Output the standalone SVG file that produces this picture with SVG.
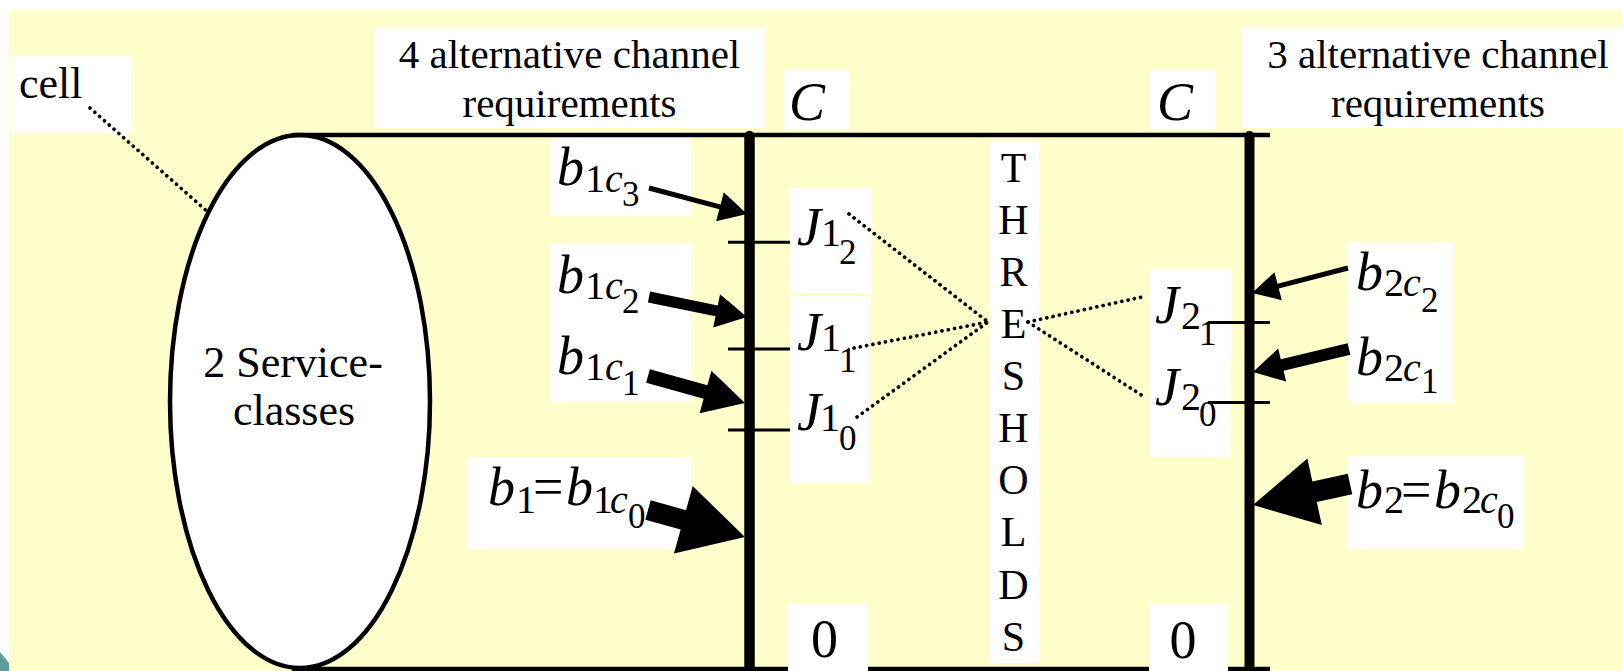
<svg xmlns="http://www.w3.org/2000/svg" width="1623" height="671" viewBox="0 0 1623 671">
<style>
text{font-family:"Liberation Serif","Times New Roman",serif;fill:#000}
.hd{font-size:41px;text-anchor:middle}
.i{font-style:italic}
.m{font-size:54px}
.s{font-size:40px}
.ss{font-size:35px}
.box{fill:#fff}
.dot{fill:none;stroke:#000;stroke-width:3.7;stroke-linecap:round;stroke-dasharray:0.1 6.3}
.tick{stroke:#000;stroke-width:3}
.arr{fill:#000}
.thr{font-size:42px;text-anchor:middle}
</style>
<rect x="0" y="0" width="1623" height="671" fill="#fff"/>
<rect x="9" y="10" width="1614" height="661" fill="#ffffcc"/>
<polygon points="0,652 9,663 9,671 0,671" fill="#5f9c9c"/>

<g id="cell">
<ellipse cx="300" cy="401.5" rx="130" ry="266.5" fill="#fff" stroke="#000" stroke-width="4.5"/>
<text x="293" y="376.7" font-size="44" text-anchor="middle">2 Service-</text>
<text x="294" y="425" font-size="44" text-anchor="middle">classes</text>
</g>

<g id="cell-label">
<rect class="box" x="12" y="55" width="119" height="79"/>
<text x="19" y="98.3" font-size="44">cell</text>
</g>

<g id="frame">
<line x1="292" y1="135" x2="1270" y2="135" stroke="#000" stroke-width="4.6"/>
<line x1="292" y1="669" x2="1270" y2="669" stroke="#000" stroke-width="4.6"/>
</g>

<g id="header-left">
<rect class="box" x="374" y="27" width="391" height="101"/>
<text class="hd" x="569.5" y="68">4 alternative channel</text>
<text class="hd" x="569.5" y="117">requirements</text>
</g>
<g id="header-right">
<rect class="box" x="1242" y="27" width="381" height="101"/>
<text class="hd" x="1438" y="68">3 alternative channel</text>
<text class="hd" x="1438" y="117">requirements</text>
</g>

<g id="C-left">
<rect class="box" x="784" y="70" width="66" height="60"/>
<text class="m i" x="789" y="120">C</text>
</g>
<g id="C-right">
<rect class="box" x="1149" y="70" width="66" height="60"/>
<text class="m i" x="1157" y="120">C</text>
</g>
<g id="zero-left">
<rect class="box" x="788" y="604" width="80" height="67"/>
<text class="m" x="824.5" y="657" text-anchor="middle">0</text>
</g>
<g id="zero-right">
<rect class="box" x="1149" y="604" width="79" height="67"/>
<text class="m" x="1183" y="658" text-anchor="middle">0</text>
</g>

<g id="thresholds">
<rect class="box" x="989" y="141" width="50" height="522"/>
<text class="thr" x="1013.5" y="181.7">T</text>
<text class="thr" x="1013.5" y="233.8">H</text>
<text class="thr" x="1013.5" y="285.9">R</text>
<text class="thr" x="1013.5" y="338">E</text>
<text class="thr" x="1013.5" y="390.1">S</text>
<text class="thr" x="1013.5" y="442.2">H</text>
<text class="thr" x="1013.5" y="494.3">O</text>
<text class="thr" x="1013.5" y="546.4">L</text>
<text class="thr" x="1013.5" y="598.5">D</text>
<text class="thr" x="1013.5" y="650.6">S</text>
</g>

<g id="b1c3">
<rect class="box" x="550" y="138" width="141" height="78"/>
<text><tspan class="m i" x="557" y="185">b</tspan><tspan class="s" x="585" y="191.5">1</tspan><tspan class="s i" x="605" y="191.5">c</tspan><tspan class="ss" x="622" y="206">3</tspan></text>
</g>
<g id="b1c2-b1c1">
<rect class="box" x="550" y="243" width="141" height="159"/>
<text><tspan class="m i" x="557" y="292.5">b</tspan><tspan class="s" x="585" y="298.5">1</tspan><tspan class="s i" x="605" y="298.5">c</tspan><tspan class="ss" x="622" y="313">2</tspan></text>
<text><tspan class="m i" x="557" y="373.5">b</tspan><tspan class="s" x="585" y="380">1</tspan><tspan class="s i" x="605" y="380">c</tspan><tspan class="ss" x="622" y="395">1</tspan></text>
</g>
<g id="b1c0">
<rect class="box" x="467" y="457" width="224" height="92"/>
<text><tspan class="m i" x="488" y="505">b</tspan><tspan class="s" x="516" y="513">1</tspan><tspan class="m" x="533" y="505">=</tspan><tspan class="m i" x="566" y="505">b</tspan><tspan class="s" x="593" y="513">1</tspan><tspan class="s i" x="610" y="513">c</tspan><tspan class="ss" x="628" y="528">0</tspan></text>
</g>

<g id="J12">
<rect class="box" x="789" y="188" width="82" height="105"/>
<text><tspan class="m i" x="797" y="245">J</tspan><tspan class="s" x="821" y="246">1</tspan><tspan class="ss" x="839" y="264">2</tspan></text>
</g>
<g id="J11-J10">
<rect class="box" x="789" y="296" width="81" height="187"/>
<text><tspan class="m i" x="797" y="350">J</tspan><tspan class="s" x="821" y="351">1</tspan><tspan class="ss" x="839" y="371.5">1</tspan></text>
<text><tspan class="m i" x="797" y="430">J</tspan><tspan class="s" x="820" y="431">1</tspan><tspan class="ss" x="839" y="450">0</tspan></text>
</g>
<g id="J21">
<rect class="box" x="1149" y="269" width="82" height="91"/>
<text><tspan class="m i" x="1155" y="323">J</tspan><tspan class="s" x="1181" y="329">2</tspan><tspan class="ss" x="1199" y="345">1</tspan></text>
</g>
<g id="J20">
<rect class="box" x="1149" y="360" width="81" height="97"/>
<text><tspan class="m i" x="1155" y="405">J</tspan><tspan class="s" x="1181" y="410">2</tspan><tspan class="ss" x="1199" y="426">0</tspan></text>
</g>

<g id="b2c2-b2c1">
<rect class="box" x="1348" y="242" width="105" height="161"/>
<text><tspan class="m i" x="1356" y="290">b</tspan><tspan class="s" x="1384" y="296">2</tspan><tspan class="s i" x="1403" y="296">c</tspan><tspan class="ss" x="1421" y="312">2</tspan></text>
<text><tspan class="m i" x="1356" y="375">b</tspan><tspan class="s" x="1384" y="381">2</tspan><tspan class="s i" x="1403" y="381">c</tspan><tspan class="ss" x="1421" y="393">1</tspan></text>
</g>
<g id="b2c0">
<rect class="box" x="1348" y="456" width="176" height="93"/>
<text><tspan class="m i" x="1356" y="508">b</tspan><tspan class="s" x="1384" y="513">2</tspan><tspan class="m" x="1401" y="508">=</tspan><tspan class="m i" x="1434" y="508">b</tspan><tspan class="s" x="1462" y="513">2</tspan><tspan class="s i" x="1480" y="513">c</tspan><tspan class="ss" x="1497" y="528">0</tspan></text>
</g>

<g id="connectors">
<line x1="749.5" y1="136" x2="749.5" y2="680" stroke="#000" stroke-width="10.5" stroke-linecap="round"/>
<line x1="1249.5" y1="136" x2="1249.5" y2="680" stroke="#000" stroke-width="10" stroke-linecap="round"/>
<line class="tick" x1="728" y1="242.3" x2="790" y2="242.3"/>
<line class="tick" x1="728" y1="349" x2="790" y2="349"/>
<line class="tick" x1="728" y1="430" x2="790" y2="430"/>
<line class="tick" x1="1208" y1="322.5" x2="1270" y2="322.5"/>
<line class="tick" x1="1208" y1="402.5" x2="1270" y2="402.5"/>
<line class="dot" x1="90" y1="108" x2="209" y2="213"/>
<line class="dot" x1="849" y1="214" x2="988" y2="322"/>
<line class="dot" x1="854" y1="348" x2="988" y2="322"/>
<line class="dot" x1="857" y1="417" x2="988" y2="322"/>
<line class="dot" x1="1028" y1="322" x2="1142" y2="297"/>
<line class="dot" x1="1028" y1="322" x2="1146" y2="398"/>
<polygon class="arr" points="648.36,190.42 719.30,209.24 716.09,221.32 747,214 723.79,192.32 720.58,204.40 649.64,185.58"/>
<polygon class="arr" points="647.9,302.39 715.53,316.19 713.23,327.46 747,317 720.03,294.14 717.73,305.41 650.1,291.61"/>
<polygon class="arr" points="646.12,382.74 703.62,398.74 699.6,413.2 745,403 711.4,370.8 707.38,385.26 649.88,369.26"/>
<polygon class="arr" points="645.32,519.63 680.66,529.47 673.95,553.56 745,537 692.73,486.12 686.02,510.21 650.68,500.37"/>
<polygon class="arr" points="1347.37,265.58 1277.5,283.78 1274.48,272.17 1252,293 1281.78,300.23 1278.76,288.62 1348.63,270.42"/>
<polygon class="arr" points="1347.6,343.17 1280.77,359.18 1278.21,348.48 1253,372 1286.13,381.54 1283.57,370.85 1350.4,354.84"/>
<polygon class="arr" points="1347.78,473.74 1312.35,481.41 1307.38,458.44 1253,505 1321.76,524.9 1316.79,501.93 1352.22,494.26"/>
</g>
</svg>
